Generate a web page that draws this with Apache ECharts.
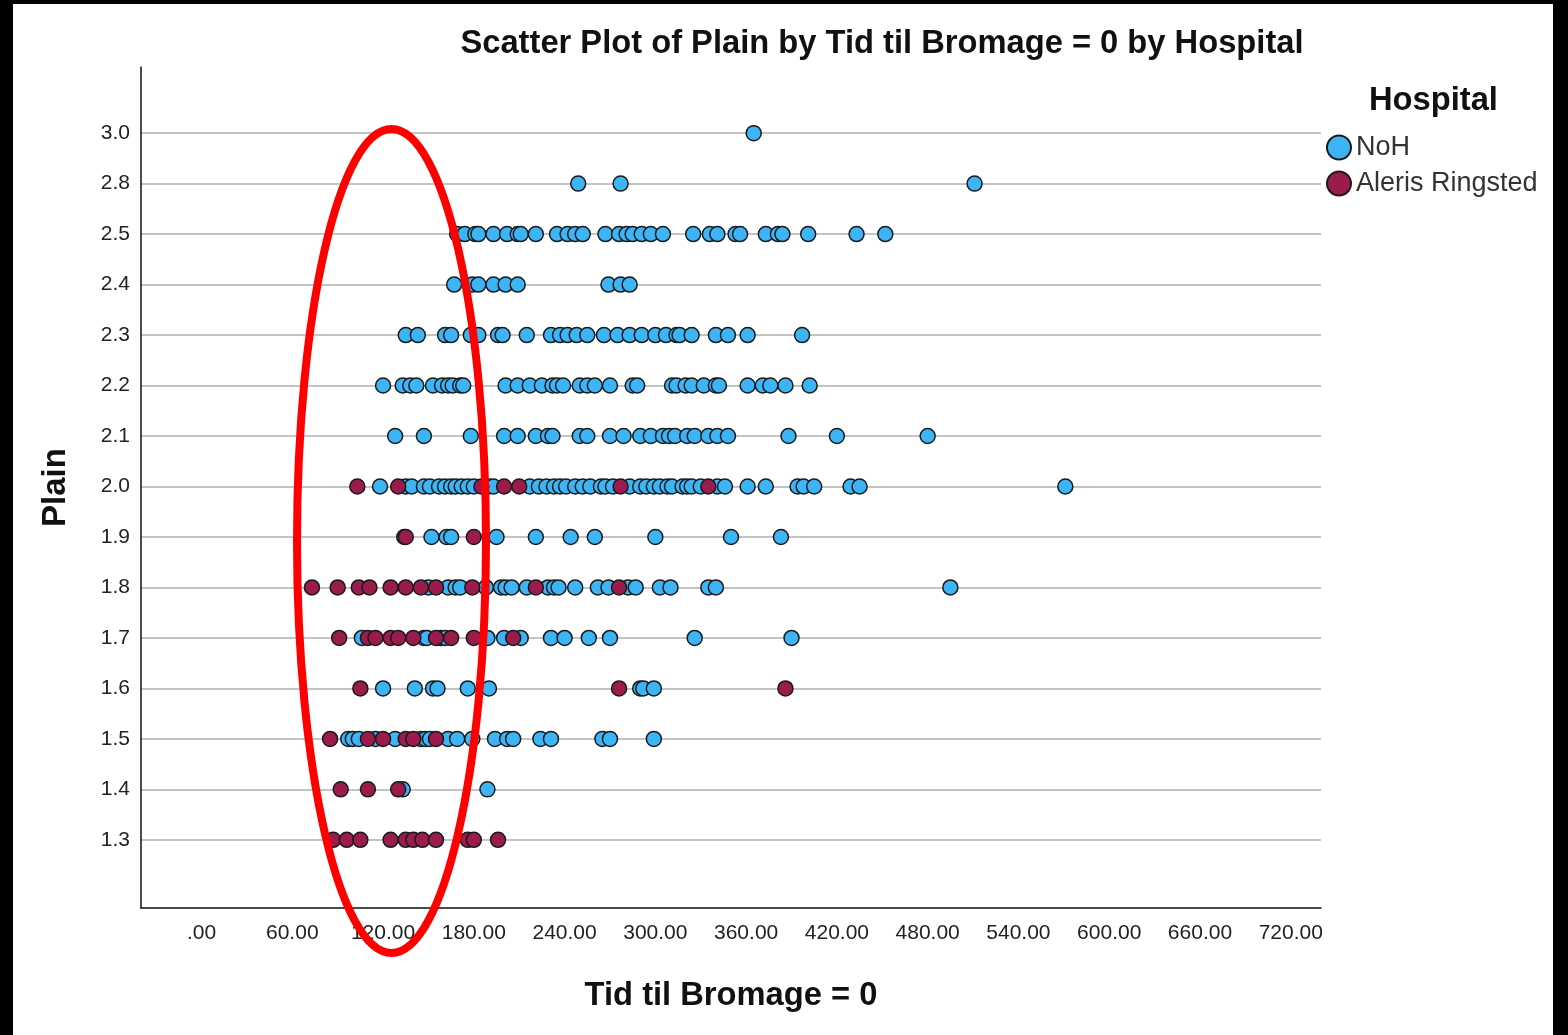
<!DOCTYPE html>
<html><head><meta charset="utf-8">
<script src="https://cdn.jsdelivr.net/npm/echarts@6/dist/echarts.min.js"></script>
<style>
html,body{margin:0;padding:0;background:#000;width:1568px;height:1035px;overflow:hidden}
#chart{position:absolute;left:13px;top:4px;width:1540px;height:1031px;background:#fff}
</style></head><body><div id="chart"></div>
<script>
// ---- categories / ticks ----
const yCategories = ['1.3','1.4','1.5','1.6','1.7','1.8','1.9','2.0','2.1','2.2','2.3','2.4','2.5','2.8','3.0'];
const xTickValues = [0,60,120,180,240,300,360,420,480,540,600,660,720];
const xTickLabels = ['.00','60.00','120.00','180.00','240.00','300.00','360.00','420.00','480.00','540.00','600.00','660.00','720.00'];
const seriesNames = ['NoH','Aleris Ringsted'];

// ---- NoH : Tid til Bromage = 0 values per Plain category ----
const noh_1_3 = [];
const noh_1_4 = [133, 189];
const noh_1_5 = [97, 100, 104, 115, 128, 145, 148, 151, 163, 169, 179, 194, 202, 206, 224, 231, 265, 270, 299];
const noh_1_6 = [120, 141, 153, 156, 176, 190, 290, 292, 299];
const noh_1_7 = [106, 147, 149, 158, 161, 189, 200, 211, 231, 240, 256, 270, 326, 390];
const noh_1_8 = [150, 163, 168, 171, 188, 198, 201, 205, 215, 229, 233, 236, 247, 262, 269, 282, 287, 303, 310, 335, 340, 495];
const noh_1_9 = [134, 152, 162, 165, 195, 221, 244, 260, 300, 350, 383];
const noh_2_0 = [118, 135, 139, 147, 151, 157, 161, 165, 168, 172, 176, 180, 190, 193, 217, 223, 228, 233, 237, 241, 247, 252, 257, 264, 267, 272, 283, 290, 294, 299, 303, 308, 311, 318, 321, 324, 330, 341, 346, 361, 373, 394, 398, 405, 429, 435, 571];
const noh_2_1 = [128, 147, 178, 200, 209, 221, 229, 232, 250, 255, 270, 279, 290, 297, 305, 309, 313, 321, 326, 335, 341, 348, 388, 420, 480];
const noh_2_2 = [120, 133, 138, 142, 153, 159, 163, 166, 171, 173, 201, 209, 217, 225, 232, 235, 239, 250, 255, 260, 270, 285, 288, 311, 314, 320, 324, 332, 340, 342, 361, 371, 376, 386, 402];
const noh_2_3 = [135, 143, 161, 165, 178, 183, 196, 199, 215, 231, 237, 242, 248, 255, 266, 275, 283, 291, 300, 307, 314, 316, 324, 340, 348, 361, 397];
const noh_2_4 = [167, 179, 183, 193, 201, 209, 269, 277, 283];
const noh_2_5 = [169, 174, 181, 183, 193, 202, 209, 211, 221, 235, 242, 247, 252, 267, 276, 281, 285, 291, 297, 305, 325, 336, 341, 353, 356, 373, 381, 384, 401, 433, 452];
const noh_2_8 = [249, 277, 511];
const noh_3_0 = [365];

// ---- Aleris Ringsted ----
const ale_1_3 = [87, 96, 105, 125, 135, 140, 146, 155, 176, 180, 196];
const ale_1_4 = [92, 110, 130];
const ale_1_5 = [85, 110, 120, 135, 140, 155];
const ale_1_6 = [105, 276, 386];
const ale_1_7 = [91, 110, 115, 125, 130, 140, 155, 165, 180, 206];
const ale_1_8 = [73, 90, 104, 111, 125, 135, 145, 155, 179, 221, 276];
const ale_1_9 = [135, 180];
const ale_2_0 = [103, 130, 185, 200, 210, 277, 335];
const ale_2_1 = [], ale_2_2 = [], ale_2_3 = [], ale_2_4 = [], ale_2_5 = [], ale_2_8 = [], ale_3_0 = [];

const nohRows = [noh_1_3, noh_1_4, noh_1_5, noh_1_6, noh_1_7, noh_1_8, noh_1_9, noh_2_0, noh_2_1, noh_2_2, noh_2_3, noh_2_4, noh_2_5, noh_2_8, noh_3_0];
const aleRows = [ale_1_3, ale_1_4, ale_1_5, ale_1_6, ale_1_7, ale_1_8, ale_1_9, ale_2_0, ale_2_1, ale_2_2, ale_2_3, ale_2_4, ale_2_5, ale_2_8, ale_3_0];

function toPoints(rows) {
  const out = [];
  rows.forEach((row, i) => row.forEach(x => out.push([x, i])));
  return out;
}

const FONT = "'Liberation Sans', Arial, sans-serif";
const yIdx = yCategories.map((_, i) => i);

const chart = echarts.init(document.getElementById('chart'), null, {renderer: 'canvas'});
chart.setOption({
  animation: false,
  backgroundColor: '#ffffff',
  textStyle: {fontFamily: FONT},
  title: [
    {text: 'Scatter Plot of Plain by Tid til Bromage = 0 by Hospital', left: 864, top: 18, textAlign: 'center',
     textStyle: {fontFamily: FONT, fontSize: 32.7, fontWeight: 'bold', color: '#111'}},
    {text: 'Hospital', left: 1351, top: 75,
     textStyle: {fontFamily: FONT, fontSize: 32.7, fontWeight: 'bold', color: '#111'}}
  ],
  legend: {
    data: seriesNames, orient: 'vertical', left: 1313, top: 130, padding: 0,
    itemWidth: 24, itemHeight: 24, itemGap: 9, icon: 'circle',
    itemStyle: {borderWidth: 2, borderColor: '#1a1a1a'},
    textStyle: {fontFamily: FONT, fontSize: 27, lineHeight: 24, color: '#333'}
  },
  grid: {left: 128, top: 63, width: 1180, height: 841, containLabel: false},
  xAxis: {
    type: 'value', min: -40, max: 740,
    name: 'Tid til Bromage = 0', nameLocation: 'middle', nameGap: 71,
    nameTextStyle: {fontFamily: FONT, fontSize: 32.7, fontWeight: 'bold', color: '#111'},
    axisLine: {show: true, onZero: false, lineStyle: {color: '#111', width: 1.5}},
    axisTick: {show: false, customValues: xTickValues},
    axisLabel: {customValues: xTickValues, margin: 15, fontSize: 21, color: '#222', fontFamily: FONT,
      formatter: v => xTickLabels[xTickValues.indexOf(v)]},
    splitLine: {show: false}
  },
  yAxis: {
    type: 'value', min: -1.35, max: 15.31,
    name: 'Plain', nameLocation: 'middle', nameGap: 69, nameRotate: 90,
    nameTextStyle: {fontFamily: FONT, fontSize: 33, fontWeight: 'bold', color: '#111'},
    axisLine: {show: true, onZero: false, lineStyle: {color: '#111', width: 1.5}},
    axisTick: {show: false, customValues: yIdx},
    axisLabel: {customValues: yIdx, margin: 11, fontSize: 21, color: '#222', fontFamily: FONT,
      formatter: v => yCategories[Math.round(v)]},
    splitLine: {show: true, lineStyle: {color: '#b0b0b0', width: 1.7}}
  },
  series: [
    {name: seriesNames[0], type: 'scatter', data: toPoints(nohRows), symbol: 'circle', symbolSize: 15,
     itemStyle: {color: '#3cb4f5', borderColor: '#1a1a1a', borderWidth: 1.5, opacity: 1}, z: 3},
    {name: seriesNames[1], type: 'scatter', data: toPoints(aleRows), symbol: 'circle', symbolSize: 15,
     itemStyle: {color: '#9c1b4d', borderColor: '#1a1a1a', borderWidth: 1.5, opacity: 1}, z: 4}
  ],
  graphic: [
    {type: 'ellipse', shape: {cx: 378.5, cy: 537, rx: 94.5, ry: 412}, z: 100,
     style: {fill: 'none', stroke: '#ff0000', lineWidth: 8}}
  ]
});
</script></body></html>
